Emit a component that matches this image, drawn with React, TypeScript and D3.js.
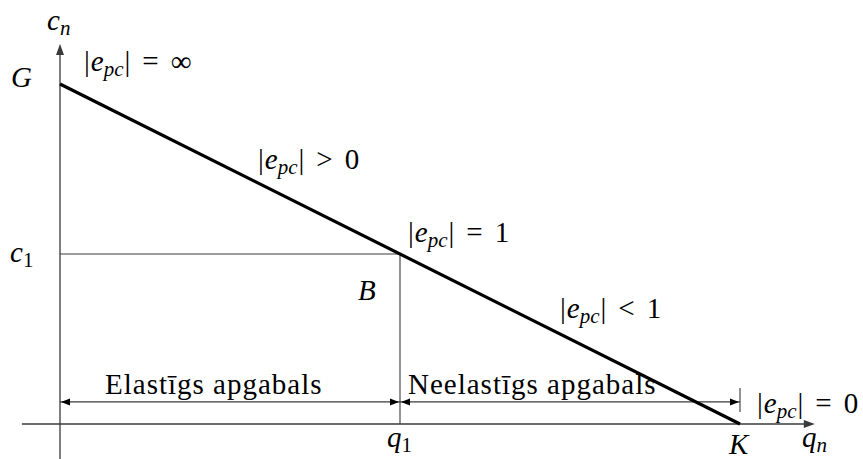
import React from "react";
import * as d3 from "d3";

// Demand line (normalised quantity q, price c)
const demandQ = [0, 1];
const demandC = [1, 0];
// Point B
const q1Value = [0.5];
const c1Value = [0.5];
// Axis extents (data units)
const qAxisExtent = [-0.056, 1.11];
const cAxisExtent = [-0.103, 1.118];
// Region labels
const regionLabels = ["Elastīgs apgabals", "Neelastīgs apgabals"];

const W = 863;
const H = 459;
const FONT = "'Liberation Serif', 'Times New Roman', serif";
const FS = 29;
const SUB = 21;
const AXIS = "#3a3a3a";

function tri(tipX: number, tipY: number, dir: "left" | "right" | "up", len: number, half: number) {
  if (dir === "right") return `M${tipX},${tipY} L${tipX - len},${tipY - half} L${tipX - len},${tipY + half} Z`;
  if (dir === "left") return `M${tipX},${tipY} L${tipX + len},${tipY - half} L${tipX + len},${tipY + half} Z`;
  return `M${tipX},${tipY} L${tipX - half},${tipY + len} L${tipX + half},${tipY + len} Z`;
}

function Abs({ x, y, rel, rhs }: { x: number; y: number; rel: string; rhs: string }) {
  return (
    <text x={x} y={y} fontFamily={FONT} fontSize={FS} fill="#000">
      <tspan>|</tspan>
      <tspan fontStyle="italic" dx={1}>e</tspan>
      <tspan fontStyle="italic" fontSize={SUB} dy={5}>pc</tspan>
      <tspan dy={-5} dx={1}>|</tspan>
      <tspan dx={12}>{rel}</tspan>
      <tspan dx={12}>{rhs}</tspan>
    </text>
  );
}

function Sub({ x, y, base, sub, subItalic }: { x: number; y: number; base: string; sub: string; subItalic?: boolean }) {
  return (
    <text x={x} y={y} fontFamily={FONT} fontSize={FS} fill="#000">
      <tspan fontStyle="italic">{base}</tspan>
      <tspan fontStyle={subItalic ? "italic" : "normal"} fontSize={SUB} dy={5}>{sub}</tspan>
    </text>
  );
}

export default function App() {
  const x = d3.scaleLinear().domain([0, 1]).range([60, 740]);
  const y = d3.scaleLinear().domain([0, 1]).range([424, 84]);

  const line = d3
    .line<number>()
    .x((_, i) => x(demandQ[i]))
    .y((_, i) => y(demandC[i]));

  const x0 = x(0);
  const y0 = y(0);
  const xq1 = x(q1Value[0]);
  const yc1 = y(c1Value[0]);
  const xK = x(demandQ[1]);
  const xEnd = x(qAxisExtent[1]);
  const yTop = y(cAxisExtent[1]);
  const dimY = y(0.065);

  return (
    <svg width={W} height={H} style={{ position: "absolute", left: 0, top: 0, background: "#fff" }}>
      {/* axes */}
      <line x1={x(qAxisExtent[0])} y1={y0} x2={xEnd - 6} y2={y0} stroke={AXIS} strokeWidth={1.3} />
      <path d={tri(xEnd, y0, "right", 11, 4)} fill={AXIS} />
      <line x1={x0} y1={y(cAxisExtent[0])} x2={x0} y2={yTop + 6} stroke={AXIS} strokeWidth={1.3} />
      <path d={tri(x0, yTop, "up", 11, 4)} fill={AXIS} />

      {/* guide lines to B */}
      <line x1={x0} y1={yc1} x2={xq1} y2={yc1} stroke={AXIS} strokeWidth={1.1} />
      <line x1={xq1} y1={yc1} x2={xq1} y2={y0} stroke={AXIS} strokeWidth={1.1} />

      {/* dimension arrows */}
      <line x1={x0} y1={dimY} x2={xq1} y2={dimY} stroke={AXIS} strokeWidth={1.1} />
      <path d={tri(x0 + 1, dimY, "left", 9, 3.5)} fill="#000" />
      <path d={tri(xq1 - 1, dimY, "right", 9, 3.5)} fill="#000" />
      <line x1={xq1} y1={dimY} x2={xK} y2={dimY} stroke={AXIS} strokeWidth={1.1} />
      <path d={tri(xq1 + 1, dimY, "left", 9, 3.5)} fill="#000" />
      <path d={tri(xK - 1, dimY, "right", 9, 3.5)} fill="#000" />
      <line x1={xK} y1={dimY - 14} x2={xK} y2={dimY + 10} stroke={AXIS} strokeWidth={1.1} />

      {/* demand line */}
      <path d={line(demandQ) || ""} fill="none" stroke="#000" strokeWidth={3.2} />

      {/* labels */}
      <Sub x={47} y={30} base="c" sub="n" subItalic />
      <text x={11} y={87} fontFamily={FONT} fontSize={FS} fontStyle="italic">G</text>
      <Sub x={10} y={262} base="c" sub="1" />
      <text x={358} y={300} fontFamily={FONT} fontSize={FS} fontStyle="italic">B</text>
      <Sub x={387} y={447} base="q" sub="1" />
      <text x={729} y={454} fontFamily={FONT} fontSize={FS} fontStyle="italic">K</text>
      <Sub x={802} y={447} base="q" sub="n" subItalic />

      <Abs x={84} y={71} rel="=" rhs="∞" />
      <Abs x={258} y={169} rel=">" rhs="0" />
      <Abs x={408} y={242} rel="=" rhs="1" />
      <Abs x={560} y={318} rel="<" rhs="1" />
      <Abs x={757} y={413} rel="=" rhs="0" />

      <text x={105} y={394} fontFamily={FONT} fontSize={FS} letterSpacing={1}>{regionLabels[0]}</text>
      <text x={408} y={394} fontFamily={FONT} fontSize={FS} letterSpacing={1}>{regionLabels[1]}</text>
    </svg>
  );
}
